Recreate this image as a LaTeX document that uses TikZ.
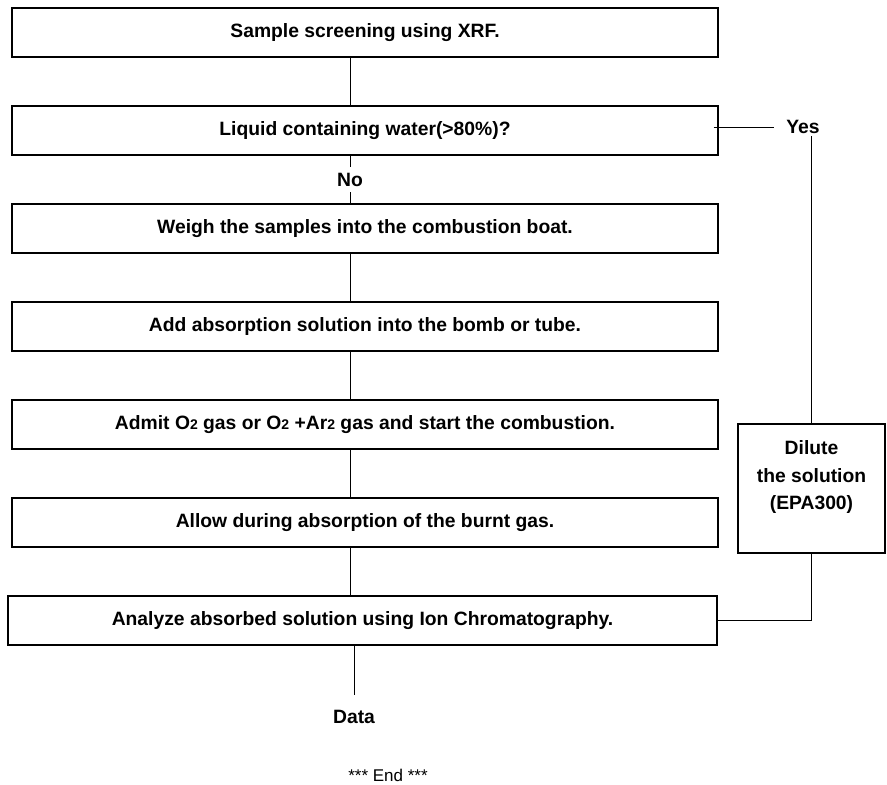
\documentclass[tikz,border=0pt]{standalone}
\usepackage{fontspec}
\setmainfont{Liberation Sans}
\tikzset{>=latex}
\usetikzlibrary{positioning}
\tikzset{
  stepbox/.style={draw, rectangle, line width=1.3pt, minimum width=706pt, minimum height=49pt, inner sep=0pt, font=\fontsize{19.3}{27.5}\selectfont\bfseries},
  lbl/.style={font=\fontsize{19.3}{27.5}\selectfont\bfseries}
}
\newcommand{\sub}[1]{{\fontsize{14}{14}\selectfont #1}}

\begin{document}
\begin{tikzpicture}[x=1pt, y=1pt, line width=1pt]
      \useasboundingbox (0,0) rectangle (887,-785);
      \node[stepbox] (n1) at (365,-32.5) {Sample screening using XRF.};
      \node[stepbox, below of=n1, node distance=98pt] (n2) {Liquid containing water(>80\%)?};
      \node[stepbox, below of=n2, node distance=98pt] (n3) {Weigh the samples into the combustion boat.};
      \node[stepbox, below of=n3, node distance=98pt] (n4) {Add absorption solution into the bomb or tube.};
      \node[stepbox, below of=n4, node distance=98pt] (n5) {Admit O\sub{2} gas or O\sub{2} +Ar\sub{2} gas and start the combustion.};
      \node[stepbox, below of=n5, node distance=98pt] (n6) {Allow during absorption of the burnt gas.};
      \node[stepbox, below of=n6, node distance=98pt, minimum width=709pt, xshift=-2.5pt] (n7) {Analyze absorbed solution using Ion Chromatography.};
      \node[lbl, inner xsep=12pt, inner ysep=2pt] (yes) at (803,-127) {Yes};
      \node[stepbox, minimum width=147pt, minimum height=129pt] (dil) at (811.5,-488.5) {};
      \node[lbl, align=center] (diltext) at (811.5,-477.5) {Dilute\\the solution\\(EPA300)};
      \node[lbl, inner ysep=15pt] (data) at (354,-717) {Data};
      \node[font=\fontsize{17}{17}\selectfont] (fin) at (388,-775) {*** End ***};
      \draw ([xshift=-15pt]n1.south) -- ([xshift=-15pt]n2.north);
      \draw ([xshift=-15pt]n2.south) -- node[lbl, fill=white, inner sep=6pt]{No} ([xshift=-15pt]n3.north);
      \draw ([xshift=-15pt]n3.south) -- ([xshift=-15pt]n4.north);
      \draw ([xshift=-15pt]n4.south) -- ([xshift=-15pt]n5.north);
      \draw ([xshift=-15pt]n5.south) -- ([xshift=-15pt]n6.north);
      \draw ([xshift=-15pt]n6.south) -- ([xshift=-12.5pt]n7.north);
      \draw ([xshift=-5pt]n2.east |- yes.west) -- (yes.west);
      \draw (yes.south -| dil.north) -- (dil.north);
      \draw (n7.east) -| (dil.south);
      \draw (n7.south -| data.north) -- (data.north);
    \end{tikzpicture}
\end{document}
